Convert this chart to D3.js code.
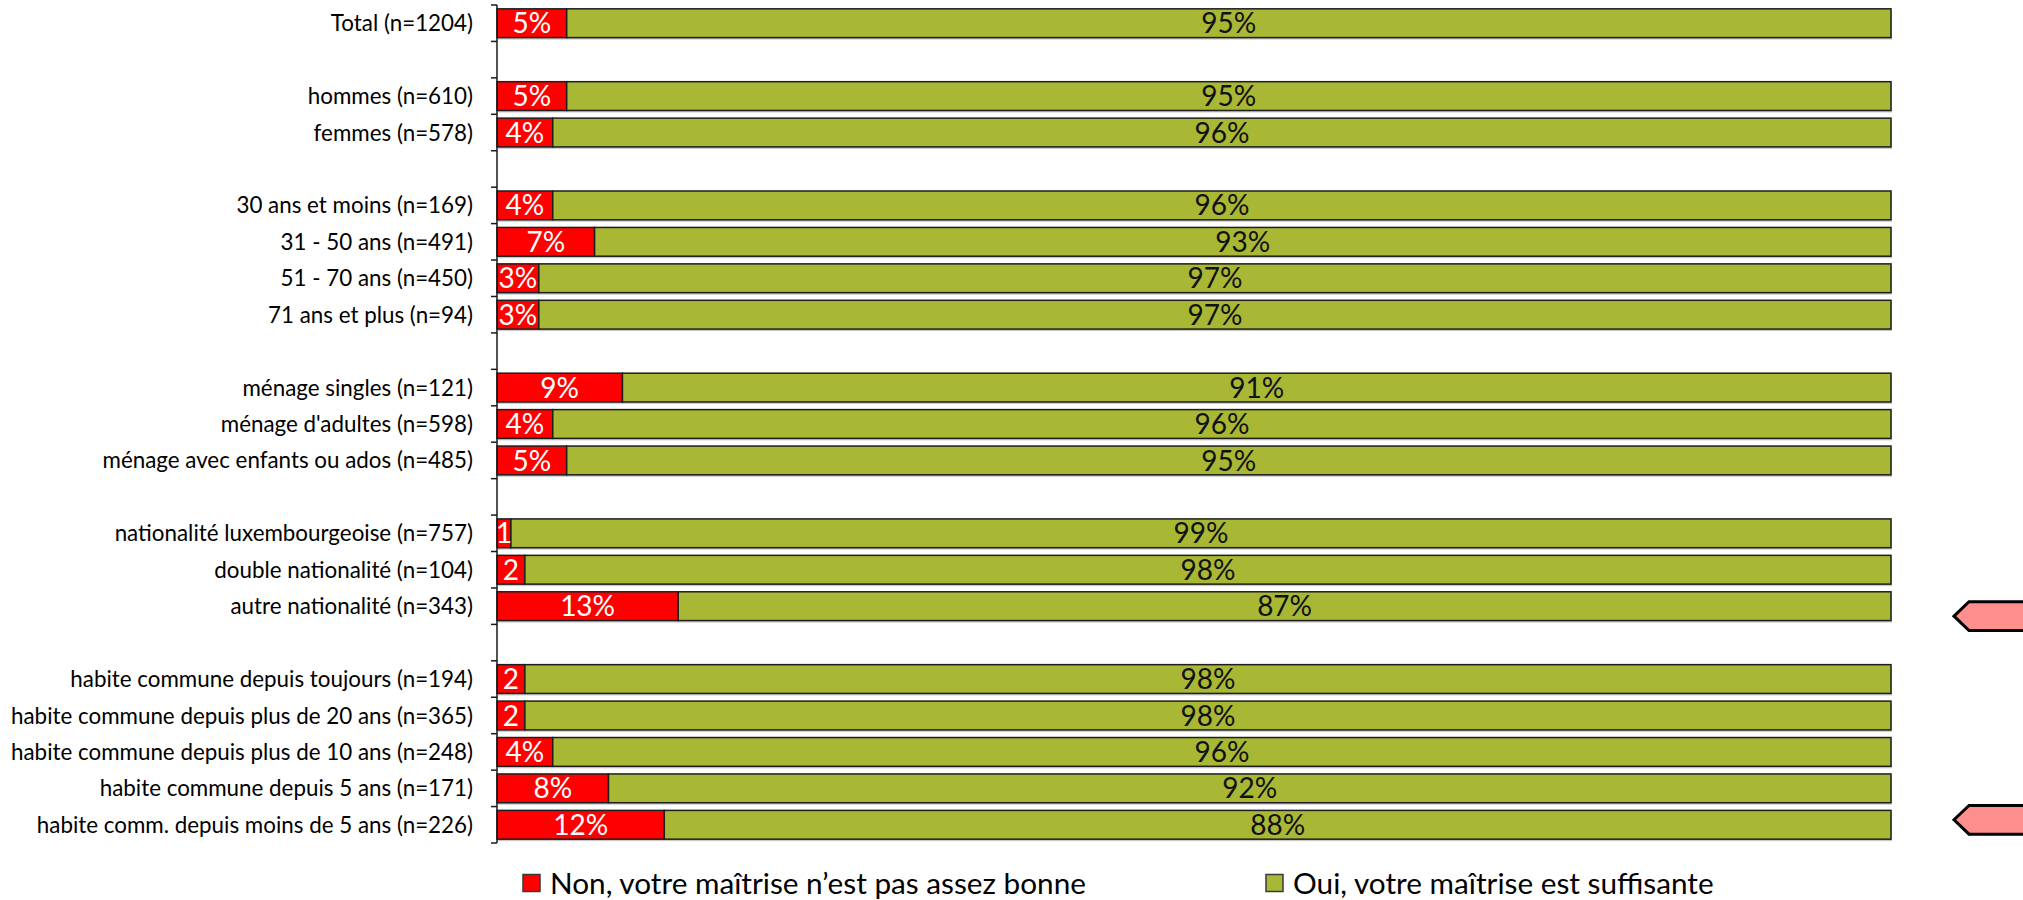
<!DOCTYPE html>
<html>
<head>
<meta charset="utf-8">
<script src="https://cdn.jsdelivr.net/npm/d3@7"></script>
<style>
  html, body { margin: 0; padding: 0; background: #ffffff; }
  svg { display: block; font-family: Lato, "Open Sans", sans-serif; }
</style>
</head>
<body>
<svg id="chart" width="2023" height="900"></svg>
<script>
// Groups of respondents (each group separated by an empty row)
const groups = [
  ["Total (n=1204)"],
  ["hommes (n=610)", "femmes (n=578)"],
  ["30 ans et moins (n=169)", "31 - 50 ans (n=491)", "51 - 70 ans (n=450)", "71 ans et plus (n=94)"],
  ["ménage singles (n=121)", "ménage d'adultes (n=598)", "ménage avec enfants ou ados (n=485)"],
  ["nationalité luxembourgeoise (n=757)", "double nationalité (n=104)", "autre nationalité (n=343)"],
  ["habite commune depuis toujours (n=194)", "habite commune depuis plus de 20 ans (n=365)",
   "habite commune depuis plus de 10 ans (n=248)", "habite commune depuis 5 ans (n=171)",
   "habite comm. depuis moins de 5 ans (n=226)"]
];

// Share (%) answering "Non" and "Oui", in the same order as the categories above
const nonValues = [5, 5, 4, 4, 7, 3, 3, 9, 4, 5, 1, 2, 13, 2, 2, 4, 8, 12];
const ouiValues = [95, 95, 96, 96, 93, 97, 97, 91, 96, 95, 99, 98, 87, 98, 98, 96, 92, 88];
// Labels printed inside the red segments (narrow segments only show the number)
const nonLabels = ["5%", "5%", "4%", "4%", "7%", "3%", "3%", "9%", "4%", "5%", "1", "2", "13%", "2", "2", "4%", "8%", "12%"];

const seriesNames = ["Non, votre maîtrise n’est pas assez bonne", "Oui, votre maîtrise est suffisante"];
const seriesColors = ["#FF0000", "#A8B734"];

// Rows flagged with an arrow marker on the right
const flagged = [
  { category: "autre nationalité (n=343)", dy: 10 },
  { category: "habite comm. depuis moins de 5 ans (n=226)", dy: -5 }
];

// ---- build rows (with spacer slots between groups)
const categories = groups.flat();
const slots = [];
groups.forEach((g, gi) => {
  if (gi > 0) slots.push("__gap" + gi);
  g.forEach(c => slots.push(c));
});
const rows = categories.map((c, i) => ({
  category: c, non: nonValues[i], oui: ouiValues[i], nonLabel: nonLabels[i]
}));

const svg = d3.select("#chart");
const x0 = 497, x1 = 1891, yTop = 5, yBottom = 843;

const y = d3.scaleBand().domain(slots).range([yTop, yBottom]).paddingInner(0.21).paddingOuter(0.105);
const x = d3.scaleLinear().domain([0, 100]).range([x0, x1]);

// fit a font size so a reference string reaches a target width
function fitSize(text, target, base) {
  const t = svg.append("text").attr("font-size", base).text(text);
  const w = t.node().getComputedTextLength();
  t.remove();
  return base * target / w;
}
const labelSize = fitSize("habite commune depuis plus de 20 ans (n=365)", 462, 20);
const valueSize = fitSize("95%", 55, 20);
const legendSize = fitSize(seriesNames[0], 536, 20);

const g = svg.append("g");

// bars
const bar = g.selectAll("g.row").data(rows).join("g").attr("class", "row");
const bh = y.bandwidth();

// soft shadow under the bars
bar.append("rect")
  .attr("x", x(0) + 1).attr("y", d => y(d.category) + 2)
  .attr("width", x(100) - x(0)).attr("height", bh)
  .attr("fill", "#c9c9c9");

bar.append("rect")
  .attr("x", x(0)).attr("y", d => y(d.category))
  .attr("width", d => x(d.non) - x(0)).attr("height", bh)
  .attr("fill", seriesColors[0]).attr("stroke", "#1e1e1e").attr("stroke-width", 1.5);

bar.append("rect")
  .attr("x", d => x(d.non)).attr("y", d => y(d.category))
  .attr("width", d => x(d.non + d.oui) - x(d.non)).attr("height", bh)
  .attr("fill", seriesColors[1]).attr("stroke", "#1e1e1e").attr("stroke-width", 1.5);

// value labels
bar.append("text")
  .attr("x", d => (x(0) + x(d.non)) / 2)
  .attr("y", d => y(d.category) + bh / 2)
  .attr("dy", "0.36em")
  .attr("text-anchor", "middle")
  .attr("font-size", valueSize)
  .attr("fill", "#ffffff")
  .text(d => d.nonLabel);

bar.append("text")
  .attr("x", d => (x(d.non) + x(d.non + d.oui)) / 2)
  .attr("y", d => y(d.category) + bh / 2)
  .attr("dy", "0.36em")
  .attr("text-anchor", "middle")
  .attr("font-size", valueSize)
  .attr("fill", "#111111")
  .text(d => d.oui + "%");

// category axis with tick marks between rows
const axis = svg.append("g");
axis.append("line")
  .attr("x1", x0).attr("x2", x0).attr("y1", yTop).attr("y2", yBottom)
  .attr("stroke", "#1a1a1a").attr("stroke-width", 1.5);
const step = y.step();
axis.selectAll("line.tick").data(d3.range(slots.length + 1)).join("line")
  .attr("class", "tick")
  .attr("x1", x0 - 6).attr("x2", x0)
  .attr("y1", i => yTop + i * step).attr("y2", i => yTop + i * step)
  .attr("stroke", "#1a1a1a").attr("stroke-width", 1.5);

axis.selectAll("text.cat").data(categories).join("text")
  .attr("class", "cat")
  .attr("x", 473)
  .attr("y", c => y(c) + bh / 2)
  .attr("dy", "0.36em")
  .attr("text-anchor", "end")
  .attr("font-size", labelSize)
  .attr("fill", "#000000")
  .text(c => c);

// arrow markers on the right of flagged rows
const ah = bh;
svg.selectAll("path.flag").data(flagged).join("path")
  .attr("class", "flag")
  .attr("d", f => {
    const cy = y(f.category) + bh / 2 + f.dy;
    const tip = x1 + 63, sh = x1 + 78, end = 2040;
    return `M${tip},${cy} L${sh},${cy - ah / 2} L${end},${cy - ah / 2} L${end},${cy + ah / 2} L${sh},${cy + ah / 2} Z`;
  })
  .attr("fill", "#FF8F8F").attr("stroke", "#000000").attr("stroke-width", 3)
  .attr("stroke-linejoin", "miter");

// legend
const legendY = 883;
const legendX = [523, 1266];
const lg = svg.selectAll("g.legend").data(seriesNames).join("g").attr("class", "legend")
  .attr("transform", (d, i) => `translate(${legendX[i]},${legendY})`);
lg.append("rect")
  .attr("x", 0).attr("y", -8.5).attr("width", 17).attr("height", 17)
  .attr("fill", (d, i) => seriesColors[i]).attr("stroke", "#3a3a3a").attr("stroke-width", 1.5);
lg.append("text")
  .attr("x", 27).attr("y", 0).attr("dy", "0.36em")
  .attr("font-size", legendSize).attr("fill", "#000000")
  .text(d => d);
</script>
</body>
</html>
